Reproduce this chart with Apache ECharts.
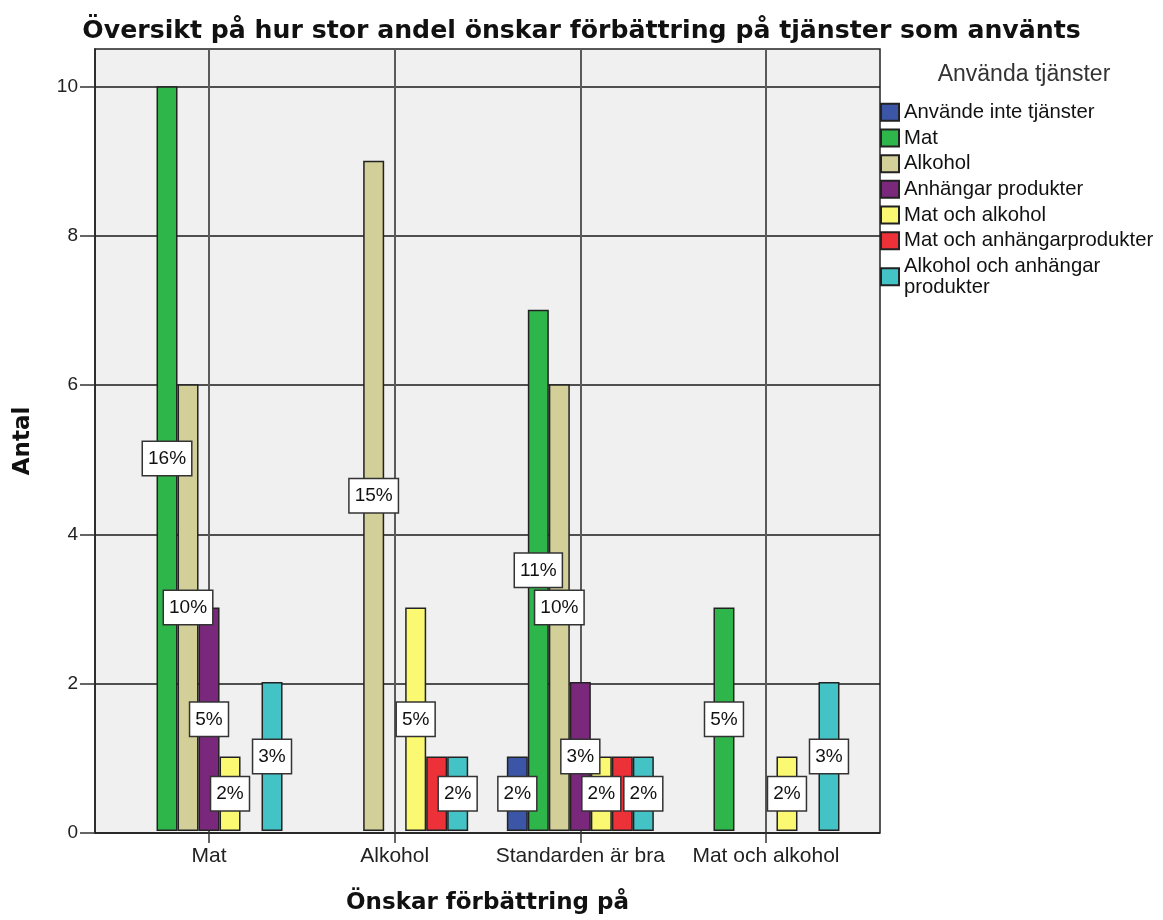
<!DOCTYPE html>
<html>
<head>
<meta charset="utf-8">
<script src="https://cdn.jsdelivr.net/npm/echarts@6/dist/echarts.min.js"></script>
<style>
  html, body { margin: 0; padding: 0; background: #fff; }
  #chart { width: 1163px; height: 920px; }
</style>
</head>
<body>
<div id="chart"></div>
<script>
// kategorier på x-axeln
const categories = ['Mat', 'Alkohol', 'Standarden är bra', 'Mat och alkohol'];
const yTicks = [0, 2, 4, 6, 8, 10];

// antal per grupp (Använda tjänster)
const anvandeInte = [0, 0, 1, 0];
const mat = [10, 0, 7, 3];
const alkohol = [6, 9, 6, 0];
const anhangar = [3, 0, 2, 0];
const matOchAlkohol = [1, 3, 1, 1];
const matOchAnhangar = [0, 1, 1, 0];
const alkoholOchAnhangar = [2, 1, 1, 2];

// procent-etiketter som syns i bilden (null = ingen etikett)
const pctAnvandeInte = [null, null, 2, null];
const pctMat = [16, null, 11, 5];
const pctAlkohol = [10, 15, 10, null];
const pctAnhangar = [5, null, 3, null];
const pctMatOchAlkohol = [2, 5, 2, 2];
const pctMatOchAnhangar = [null, null, null, null];
const pctAlkoholOchAnhangar = [3, 2, 2, 3];

const groups = [
  { name: 'Använde inte tjänster', color: '#3b56a6', data: anvandeInte, pct: pctAnvandeInte },
  { name: 'Mat', color: '#2fb64a', data: mat, pct: pctMat },
  { name: 'Alkohol', color: '#d3cf98', data: alkohol, pct: pctAlkohol },
  { name: 'Anhängar produkter', color: '#79287b', data: anhangar, pct: pctAnhangar },
  { name: 'Mat och alkohol', color: '#fbf872', data: matOchAlkohol, pct: pctMatOchAlkohol },
  { name: 'Mat och anhängarprodukter', color: '#ec3238', data: matOchAnhangar, pct: pctMatOchAnhangar },
  { name: 'Alkohol och anhängar produkter', color: '#44c3c7', data: alkoholOchAnhangar, pct: pctAlkoholOchAnhangar }
];

const FONT = 'Liberation Sans, Arial, sans-serif';
const BOLD = 'DejaVu Sans, sans-serif';

const chart = echarts.init(document.getElementById('chart'));

const series = groups.map(g => ({
  name: g.name,
  type: 'bar',
  xAxisIndex: 1,
  yAxisIndex: 1,
  barWidth: 21,
  barGap: '0%',
  itemStyle: { color: g.color, borderColor: '#222', borderWidth: 1.5 },
  label: {
    show: true,
    position: 'inside',
    formatter: p => g.pct[p.dataIndex] + '%',
    backgroundColor: '#fff',
    borderColor: '#333',
    borderWidth: 1.5,
    padding: [6, 5],
    fontFamily: FONT,
    fontSize: 19,
    lineHeight: 21,
    color: '#111'
  },
  emphasis: { disabled: true },
  data: g.data.map((v, i) => ({
    value: v === 0 ? '-' : v,
    label: { show: g.pct[i] != null }
  }))
}));

const option = {
  animation: false,
  backgroundColor: '#fff',
  title: [
    {
      text: 'Översikt på hur stor andel önskar förbättring på tjänster som använts',
      left: 'center',
      top: 19,
      padding: 0,
      textStyle: { fontFamily: BOLD, fontWeight: 'bold', fontSize: 25.2, color: '#111' }
    },
    {
      text: 'Använda tjänster',
      left: 1024,
      textAlign: 'center',
      top: 63,
      padding: 0,
      textStyle: { fontFamily: FONT, fontWeight: 'normal', fontSize: 23, color: '#333' }
    }
  ],
  legend: {
    orient: 'vertical',
    left: 880,
    top: 102,
    padding: 0,
    itemGap: 5.2,
    itemWidth: 18,
    itemHeight: 17,
    icon: 'rect',
    selectedMode: false,
    formatter: n => n === 'Alkohol och anhängar produkter' ? 'Alkohol och anhängar\nprodukter' : n,
    textStyle: { fontFamily: FONT, fontSize: 20.3, lineHeight: 20.5, color: '#111' }
  },
  grid: [
    { left: 95, top: 49, width: 785, height: 784, show: true, backgroundColor: '#f0f0f0', borderColor: '#222', borderWidth: 1.5 },
    { left: 116.2, top: 49, width: 742.6, height: 784 }
  ],
  xAxis: [
    { gridIndex: 0, type: 'value', min: 0, max: 1, show: false },
    {
      gridIndex: 1,
      type: 'category',
      data: categories,
      name: 'Önskar förbättring på',
      nameLocation: 'middle',
      nameGap: 61,
      nameTextStyle: { fontFamily: BOLD, fontWeight: 'bold', fontSize: 23, color: '#111' },
      axisLine: { show: false },
      axisTick: { show: true, alignWithLabel: true, length: 12, lineStyle: { color: '#333', width: 1.5 } },
      axisLabel: { interval: 0, fontFamily: FONT, fontSize: 21, color: '#222', margin: 15 },
      splitLine: { show: false }
    },
    {
      // vertikala linjer genom kategorimitten
      gridIndex: 1,
      type: 'value',
      min: 0,
      max: 8,
      interval: 1,
      axisLine: { show: false },
      axisTick: { show: false },
      axisLabel: { show: false },
      splitLine: { show: true, lineStyle: { color: ['rgba(0,0,0,0)', '#5a5a5a'], width: 2 } }
    }
  ],
  yAxis: [
    {
      gridIndex: 0,
      type: 'value',
      min: 0,
      max: 10.5,
      interval: 2,
      name: 'Antal',
      nameLocation: 'middle',
      nameGap: 60,
      nameTextStyle: { fontFamily: BOLD, fontWeight: 'bold', fontSize: 23, color: '#111' },
      axisLine: { show: true, lineStyle: { color: '#222', width: 1.5 } },
      axisTick: { show: true, length: 15, customValues: yTicks, lineStyle: { color: '#333', width: 1.5 } },
      axisLabel: { fontFamily: FONT, fontSize: 19, color: '#222', margin: 17, customValues: yTicks },
      splitLine: { show: true, lineStyle: { color: '#1a1a1a', width: 1.5 } }
    },
    { gridIndex: 1, type: 'value', min: 0, max: 10.5, show: false }
  ],
  series: series
};

chart.setOption(option);
</script>
</body>
</html>
